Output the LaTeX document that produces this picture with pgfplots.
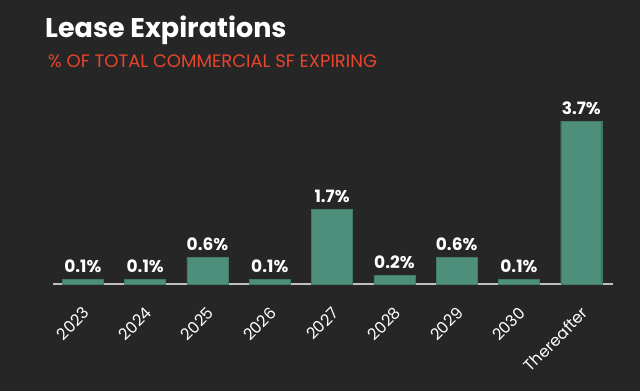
\documentclass[border=0pt]{standalone}
\usepackage{pgfplots}
\pgfplotsset{compat=1.18}
\usepackage{fontspec}
\setmainfont{Poppins}
\definecolor{bg}{HTML}{262626}
\definecolor{barc}{HTML}{4E8F7B}
\definecolor{subc}{HTML}{E8452C}
\definecolor{basec}{HTML}{BFBFBF}
\begin{document}
\begin{tikzpicture}[x=1pt,y=1pt]
\fill[bg] (0,0) rectangle (640,391);
\node[anchor=base west, inner sep=0pt, text=white, font=\fontsize{27}{30}\selectfont\bfseries] at (45,353) {Lease Expirations};
\node[anchor=base west, inner sep=0pt, text=subc, font=\fontsize{18}{20}\selectfont] at (48,323) {\% OF TOTAL COMMERCIAL SF EXPIRING};
\begin{axis}[
  at={(53pt,107pt)}, anchor=south west,
  scale only axis, width=560pt, height=176pt,
  xmin=-0.48, xmax=8.51, ymin=0, ymax=4,
  axis x line=bottom, axis y line=none,
  x axis line style={basec, line width=1.5pt, -},
  xtick=data,
  xticklabels={2023,2024,2025,2026,2027,2028,2029,2030,Thereafter},
  major tick length=0pt,
  xticklabel shift=21pt,
  xticklabel style={rotate=45, anchor=north east, text=white, font=\fontsize{16}{18}\selectfont, inner sep=0pt, xshift=-1pt},
  ybar, bar width=41pt,
  clip=false,
  nodes near coords={\pgfmathprintnumber[fixed,fixed zerofill,precision=1,assume math mode=true]{\pgfplotspointmeta}\%},
  every node near coord/.append style={text=white, font=\fontsize{17}{20}\selectfont\bfseries, yshift=3pt},
]
\addplot[fill=barc, draw=barc!85!black, line width=0.4pt] coordinates {
(0,0.1) (1,0.1) (2,0.6) (3,0.1) (4,1.7) (5,0.2) (6,0.6) (7,0.1) (8,3.7)
};
\end{axis}
\end{tikzpicture}
\end{document}
